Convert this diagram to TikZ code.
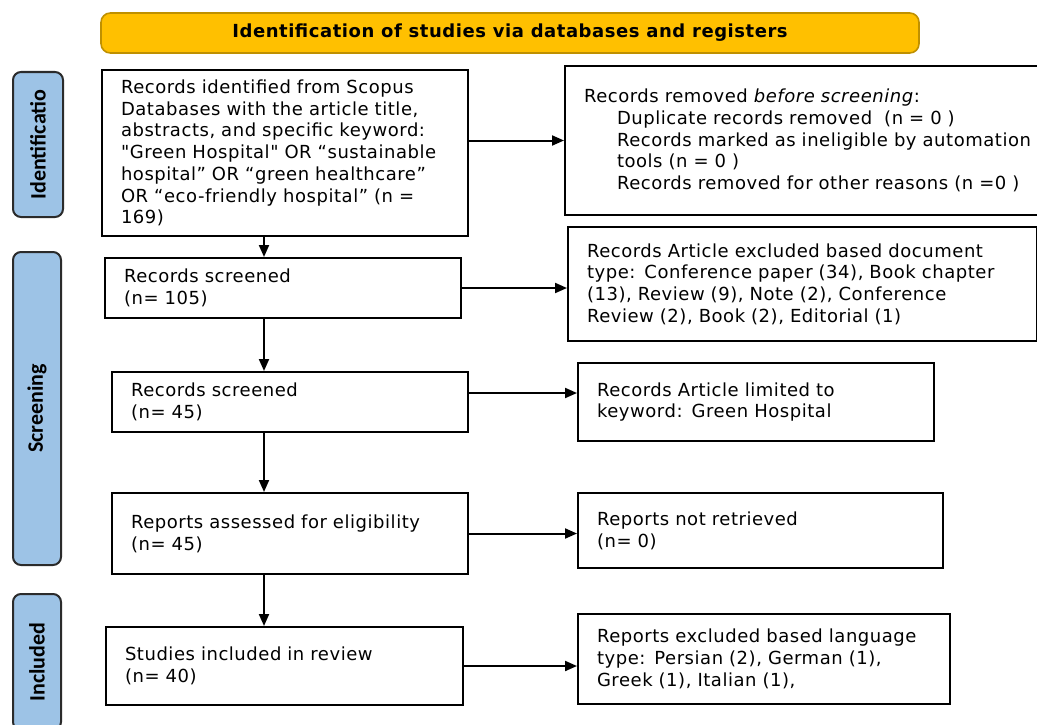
\documentclass[tikz,border=0pt]{standalone}
\usepackage{fontspec}
\setmainfont{DejaVu Sans}
\newfontfamily\sidefont{Carlito}
\newfontfamily\bodyfont{DejaVu Sans}[LetterSpace=3]
\newfontfamily\titlefont{DejaVu Sans Bold}[LetterSpace=3]
\usetikzlibrary{arrows.meta}
\definecolor{titlefill}{HTML}{FFC000}
\definecolor{titledraw}{HTML}{BF9000}
\definecolor{sidefill}{HTML}{9DC3E6}
\definecolor{sidedraw}{HTML}{2B2B2B}
\begin{document}
\begin{tikzpicture}[x=0.75pt,y=-0.75pt,
 box/.style={draw=black, line width=1.5pt, anchor=west, align=left, inner xsep=14.25pt, inner ysep=0pt, font=\bodyfont\fontsize{13.5}{16.3}\selectfont},
 arr/.style={line width=1.5pt, -{Triangle[length=9pt,width=7.5pt]}},
 side/.style={draw=sidedraw, fill=sidefill, line width=1.5pt, rounded corners=6pt, rotate=90, inner sep=0pt, font=\sidefont\bfseries\fontsize{16.5}{18}\selectfont},
 ]
\useasboundingbox (0,0) rectangle (1037,724);
\node[draw=titledraw, fill=titlefill, line width=1.2pt, rounded corners=7pt, minimum width=613.5pt, minimum height=30pt, inner sep=0pt, font=\titlefont\fontsize{13.5}{15}\selectfont] (title) at (510,33) {Identification of studies via databases and registers};

\node[side, minimum width=108.75pt, minimum height=37.5pt] (s1) at (38,144.5) {Identificatio};
\node[side, minimum width=234.75pt, minimum height=36pt] (s2) at (37,408.5) {Screening};
\node[side, minimum width=102pt, minimum height=36pt] (s3) at (37,662) {Included};

\node[box, minimum width=274.5pt, minimum height=124.5pt, text width=246pt] (A) at (101,153) {Records identified from Scopus\\Databases with the article title,\\abstracts, and specific keyword:\\\symbol{34}Green Hospital\symbol{34} OR “sustainable\\hospital” OR “green healthcare”\\OR “eco-friendly hospital” (n =\\169)};

\node[box, minimum width=360.75pt, minimum height=111.75pt, text width=345pt] (B) at (564,140.5) {Records removed \textit{before screening}:\\
\hspace*{24.75pt}Duplicate records removed\ \ (n = 0 )\\
\hspace*{24.75pt}Records marked as ineligible by automation\\
\hspace*{24.75pt}tools (n = 0 )\\
\hspace*{24.75pt}Records removed for other reasons (n =0 )};

\node[box, minimum width=267pt, minimum height=45pt, text width=238.5pt] (C) at (104,288) {Records screened\\(n= 105)};

\node[box, minimum width=351.75pt, minimum height=85.5pt, text width=323.25pt] (D) at (567,284) {Records Article excluded based document\\type: Conference paper (34), Book chapter\\(13), Review (9), Note (2), Conference\\Review (2), Book (2), Editorial (1)};

\node[box, minimum width=267pt, minimum height=45pt, text width=238.5pt] (E) at (111,402) {Records screened\\(n= 45)};

\node[box, minimum width=267pt, minimum height=58.5pt, text width=238.5pt] (F) at (577,402) {Records Article limited to\\keyword: Green Hospital};

\node[box, minimum width=267pt, minimum height=60.75pt, text width=238.5pt] (G) at (111,533.5) {Reports assessed for eligibility\\(n= 45)};

\node[box, minimum width=273.75pt, minimum height=56.25pt, text width=245.25pt] (H) at (577,530.5) {Reports not retrieved\\(n= 0)};

\node[box, minimum width=267.75pt, minimum height=58.5pt, text width=239.25pt] (I) at (105,666) {Studies included in review\\(n= 40)};

\node[box, minimum width=279pt, minimum height=67.5pt, text width=250.5pt] (J) at (577,659) {Reports excluded based language\\type: Persian (2), German (1),\\Greek (1), Italian (1),};

\coordinate (col) at (264,0);
\draw[arr] (A.east |- B.west) -- (B.west);
\draw[arr] (A.south -| col) -- (C.north -| col);
\draw[arr] (C.east) -- (C.east -| D.west);
\draw[arr] (C.south -| col) -- (E.north -| col);
\draw[arr] ([yshift=6.75pt]E.east) -- ([yshift=6.75pt]E.east -| F.west);
\draw[arr] (E.south -| col) -- (G.north -| col);
\draw[arr] (G.east) -- (G.east -| H.west);
\draw[arr] (G.south -| col) -- (I.north -| col);
\draw[arr] (I.east) -- (I.east -| J.west);
\end{tikzpicture}
\end{document}
